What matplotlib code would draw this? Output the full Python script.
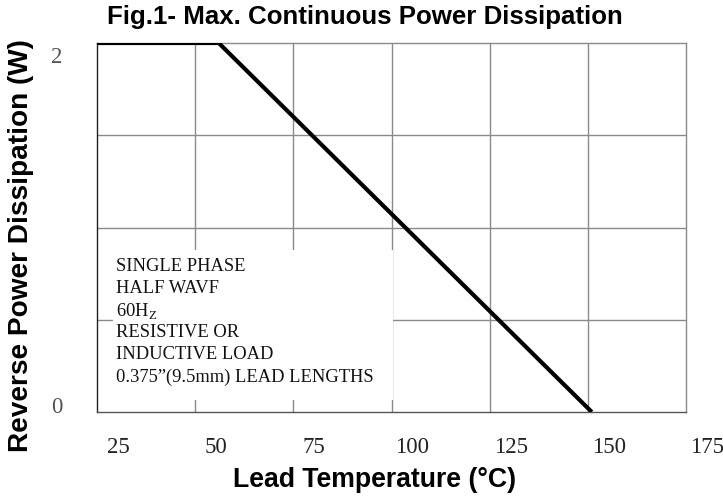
import matplotlib
matplotlib.use("Agg")
import matplotlib.pyplot as plt
import matplotlib.transforms as mtransforms
from matplotlib.patches import Rectangle

plt.rcParams['mathtext.fontset'] = 'custom'
plt.rcParams['mathtext.rm'] = 'Liberation Serif'

# data
lead_temp = [25, 56, 151]
power_w = [2.0, 2.0, 0.0]

x_ticks = [25, 50, 75, 100, 125, 150, 175]
x_tick_labels = ["25", "50", "75", "100", "125", "150", "175"]
y_ticks = [0, 2]
y_tick_labels = ["0", "2"]
note_lines = ["SINGLE PHASE", "HALF WAVF", r"60H$_{\mathrm{Z}}$",
              "RESISTIVE OR", "INDUCTIVE LOAD", "0.375\u201d(9.5mm) LEAD LENGTHS"]

W, H = 723, 499
fig = plt.figure(figsize=(W / 100, H / 100), dpi=100)
ax = fig.add_axes([97 / W, 1 - 412 / H, (686 - 97) / W, (412 - 43) / H])

ax.set_xlim(25, 175)
ax.set_ylim(0, 2)

# grid
for gx in range(50, 175, 25):
    ax.axvline(gx, color="#8a8a8a", lw=1.0, zorder=1)
for gy in [0.5, 1.0, 1.5]:
    ax.axhline(gy, color="#8a8a8a", lw=1.0, zorder=1)

# white box behind the note
ax.add_patch(Rectangle((0.027, 0.033), 0.476, 0.406, transform=ax.transAxes,
                       facecolor="white", edgecolor="none", zorder=2))
for i, line in enumerate(note_lines):
    ax.text(0.032, 0.393 - i * 0.0596, line, transform=ax.transAxes,
            family="Liberation Serif", fontsize=13.3, color="#111111",
            va="center", ha="left", zorder=3)

ax.plot(lead_temp, power_w, color="black", lw=3.0, solid_capstyle="butt", zorder=4)

for side in ["top", "right"]:
    ax.spines[side].set_color("#8a8a8a")
ax.spines["left"].set_color("#222222")
ax.spines["bottom"].set_color("#555555")
for s in ax.spines.values():
    s.set_linewidth(1.0)

ax.set_xticks(x_ticks)
ax.set_xticklabels(x_tick_labels, family="Liberation Serif", fontsize=16.5, color="#222222")
ax.set_yticks(y_ticks)
ax.set_yticklabels(y_tick_labels, family="Liberation Serif", fontsize=16.5, color="#555555")
ax.tick_params(axis="x", length=0, pad=18)
ax.tick_params(axis="y", length=0, pad=25)

# scanned labels sit a little off the grid
dx = mtransforms.ScaledTranslation(21 / 100, 0, fig.dpi_scale_trans)
for lab in ax.get_xticklabels():
    lab.set_transform(lab.get_transform() + dx)
ylabs = ax.get_yticklabels()
ylabs[0].set_transform(ylabs[0].get_transform() + mtransforms.ScaledTranslation(0, 7 / 100, fig.dpi_scale_trans))
ylabs[1].set_transform(ylabs[1].get_transform() + mtransforms.ScaledTranslation(0, -12 / 100, fig.dpi_scale_trans))

fig.text(365 / W, 1 - 17 / H, "Fig.1- Max. Continuous Power Dissipation",
         family="Liberation Sans", fontweight="bold", fontsize=18.6,
         ha="center", va="center")
fig.text(375 / W, 1 - 480 / H, "Lead Temperature (\u00b0C)",
         family="Liberation Sans", fontweight="bold", fontsize=19.2,
         ha="center", va="center")
fig.text(21 / W, 1 - 246 / H, "Reverse Power Dissipation (W)",
         family="Liberation Sans", fontweight="bold", fontsize=20.2,
         ha="center", va="center", rotation=90)

fig.savefig("out.png", dpi=100)
